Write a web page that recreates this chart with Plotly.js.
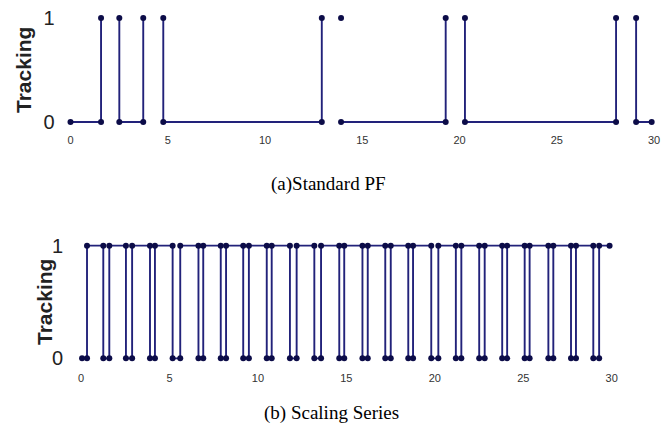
<!DOCTYPE html>
<html>
<head>
<meta charset="utf-8">
<script src="https://cdn.plot.ly/plotly-3.0.1.min.js"></script>
<style>html,body{margin:0;padding:0;background:#fff;}#chart{width:662px;height:434px;}</style>
</head>
<body>
<div id="chart"></div>
<script>
// (a) Standard PF: tracking indicator, null = break in the drawn line
const pfTime  = [0, 1.57, 1.57, null, 2.51, 2.51, 3.74, 3.74, null, 4.77, 4.77, 12.92, 12.92, null, 13.91, null, 13.91, 19.29, 19.29, null, 20.28, 20.28, 28.05, 28.05, null, 29.08, 29.08, 29.88];
const pfTrack = [0, 0, 1, null, 1, 0, 0, 1, null, 1, 0, 0, 1, null, 1, null, 0, 0, 1, null, 1, 0, 0, 1, null, 1, 0, 0];

// (b) Scaling Series: start lost, then brief losses (drop -> recover)
const ssStart   = [0.06, 0.34];
const ssDrop    = [1.26, 2.54, 3.90, 5.18, 6.64, 7.90, 9.17, 10.50, 11.81, 13.19, 14.60, 15.91, 17.20, 18.50, 19.80, 21.19, 22.51, 23.81, 25.08, 26.42, 27.70, 28.96];
const ssRecover = [1.60, 2.89, 4.18, 5.61, 6.91, 8.20, 9.49, 10.78, 12.19, 13.57, 14.88, 16.21, 17.51, 18.77, 20.20, 21.50, 22.82, 24.09, 25.36, 26.70, 27.98, 29.29];
const ssEnd     = 29.88;

const xTicks = [0, 5, 10, 15, 20, 25, 30];
const yTicks = [0, 1];
const captionA = '(a)Standard PF';
const captionB = '(b) Scaling Series';
const yTitle = 'Tracking';

// build scaling-series polyline
const ssX = [ssStart[0], ssStart[1], ssStart[1]];
const ssY = [0, 0, 1];
for (let i = 0; i < ssDrop.length; i++) {
  ssX.push(ssDrop[i], ssDrop[i], ssRecover[i], ssRecover[i]);
  ssY.push(1, 0, 0, 1);
}
ssX.push(ssEnd); ssY.push(1);

const lineC = '#22227a', markC = '#0c0c48';
const trA = {x: pfTime, y: pfTrack, type: 'scatter', mode: 'lines+markers', xaxis: 'x', yaxis: 'y',
  line: {color: lineC, width: 1.9}, marker: {color: markC, size: 6}, cliponaxis: false, connectgaps: false, showlegend: false};
const trB = {x: ssX, y: ssY, type: 'scatter', mode: 'lines+markers', xaxis: 'x2', yaxis: 'y2',
  line: {color: lineC, width: 1.9}, marker: {color: markC, size: 6}, cliponaxis: false, showlegend: false};

const W = 662, H = 434;
const xAx = (d) => ({domain: d, range: [0, 30], showgrid: false, zeroline: false, showline: false,
  tickvals: xTicks, ticktext: xTicks.map(String), ticks: '', tickfont: {family: 'Arial', size: 11, color: '#333'}, fixedrange: true});
const yAx = (d, standoff) => ({domain: d, range: [-0.1, 1.1], showgrid: false, zeroline: false, showline: false,
  tickvals: yTicks, ticktext: yTicks.map(String), ticks: '', ticklabelstandoff: standoff,
  tickfont: {family: 'Arial', size: 20, color: '#222'}, fixedrange: true});

const layout = {
  width: W, height: H, margin: {l: 0, r: 0, t: 0, b: 0},
  paper_bgcolor: '#fff', plot_bgcolor: '#fff', showlegend: false,
  xaxis: xAx([70.5 / W, 654 / W]),
  yaxis: yAx([(H - 132.4) / H, (H - 7.6) / H], 15),
  xaxis2: Object.assign(xAx([81 / W, 611.7 / W]), {anchor: 'y2'}),
  yaxis2: Object.assign(yAx([(H - 369.6) / H, (H - 234.4) / H], 17), {anchor: 'x2'}),
  annotations: [
    {text: '<b>' + yTitle + '</b>', textangle: -90, xref: 'paper', yref: 'paper', x: 24 / W, y: (H - 70) / H,
     showarrow: false, font: {family: 'Arial', size: 21, color: '#222'}, xanchor: 'center', yanchor: 'middle'},
    {text: '<b>' + yTitle + '</b>', textangle: -90, xref: 'paper', yref: 'paper', x: 44 / W, y: (H - 302) / H,
     showarrow: false, font: {family: 'Arial', size: 21, color: '#222'}, xanchor: 'center', yanchor: 'middle'},
    {text: captionA, xref: 'paper', yref: 'paper', x: 328.5 / W, y: (H - 184) / H, showarrow: false,
     font: {family: 'Liberation Serif, Times New Roman, serif', size: 19, color: '#000'}, xanchor: 'center', yanchor: 'middle'},
    {text: captionB, xref: 'paper', yref: 'paper', x: 331 / W, y: (H - 413) / H, showarrow: false,
     font: {family: 'Liberation Serif, Times New Roman, serif', size: 19, color: '#000'}, xanchor: 'center', yanchor: 'middle'}
  ]
};

Plotly.newPlot('chart', [trA, trB], layout, {staticPlot: true, displayModeBar: false});
</script>
</body>
</html>
